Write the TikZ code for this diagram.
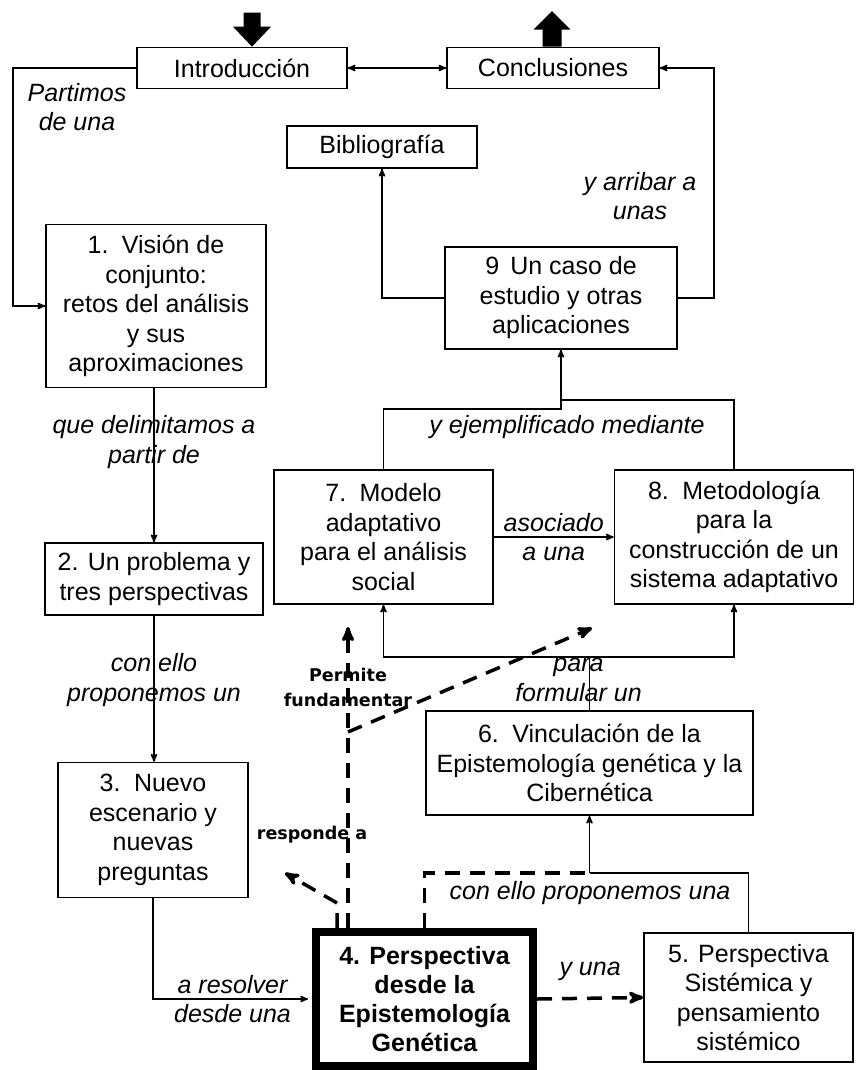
\documentclass[tikz,border=0pt]{standalone}
\usepackage{fontspec}
\setmainfont{Liberation Sans}
\newfontfamily\notefont{DejaVu Sans}
\usepackage{tikz}
\usetikzlibrary{positioning, arrows}
\tikzset{
>=stealth', % small filled heads on the links
box/.style={draw, line width=1.6pt, align=center, inner sep=0pt, font=\fontsize{25}{29.5}\selectfont}, % a plain section box
keybox/.style={box, line width=8pt, font=\fontsize{25}{29}\selectfont\bfseries}, % the central section, heavy frame
note/.style={align=center, inner sep=1pt, font=\fontsize{25}{29.5}\selectfont\itshape}, % italic text on a link
bnote/.style={align=center, inner sep=1pt, font=\notefont\fontsize{17.5}{25}\selectfont\bfseries}, % bold text on a dashed link
dashline/.style={line width=3.5pt, dash pattern=on 15pt off 10pt}, % dashed links leaving section 4
}

\begin{document}
\begin{tikzpicture}[x=1pt, y=-1pt, line width=1.6pt]
    \useasboundingbox (0,0) rectangle (856,1070);
    \node[box, minimum width=210pt, minimum height=41pt] (intro) at (242,68) {Introducción};
    \node[box, minimum width=212pt, minimum height=41pt, right of=intro, node distance=311pt] (concl) {Conclusiones};
    \node[box, minimum width=190pt, minimum height=42pt] (biblio) at (382,147) {Bibliografía};
    \node[box, minimum width=232pt, minimum height=102pt] (s9) at (561,298) {9\, Un caso de\\estudio y otras\\aplicaciones};
    \node[box, minimum width=220pt, minimum height=163pt] (s1) at (156,306) {1.\, Visión de\\conjunto:\\retos del análisis\\y sus\\aproximaciones};
    \node[box, minimum width=218pt, minimum height=72pt] (s2) at (154,579) {2. Un problema y\\tres perspectivas};
    \node[box, minimum width=190pt, minimum height=135pt] (s3) at (153,830) {3.\, Nuevo\\escenario y\\nuevas\\preguntas};
    \node[keybox, minimum width=217pt, minimum height=134pt] (s4) at (424.5,999) {4. Perspectiva\\desde la\\Epistemología\\Genética};
    \node[box, minimum width=209pt, minimum height=129pt] (s5) at (748.5,997.5) {5. Perspectiva\\Sistémica y\\pensamiento\\sistémico};
    \node[box, minimum width=327pt, minimum height=104pt] (s6) at (589.5,763) {6.\, Vinculación de la\\Epistemología genética y la\\Cibernética};
    \node[box, minimum width=219pt, minimum height=134pt] (s7) at (383.5,537) {7.\, Modelo\\adaptativo\\para el análisis\\social};
    \node[box, minimum width=239pt, minimum height=134pt, right of=s7, node distance=350.5pt] (s8) {8.\, Metodología\\para la\\construcción de un\\sistema adaptativo};

    \coordinate (j9a) at (561,409);
    \coordinate (j9b) at (561,400);
    \coordinate (j78) at (589.5,657);
    \coordinate (j6) at (589.5,873);
    \coordinate (pf) at (348,627);
    \coordinate (pj) at (348,732);
    \coordinate (pd) at (592,628);
    \coordinate (rp) at (285,873);

    \fill ([xshift=10pt]intro.north) -- ++(-19,-20) -- ++(10.5,0) -- ++(0,-14) -- ++(17,0) -- ++(0,14) -- ++(10.5,0) -- cycle;
    \fill ([xshift=-1pt]concl.north) ++(-9.5,0) -- ++(0,-17) -- ++(-9,0) -- ++(18.5,-18.5) -- ++(18.5,18.5) -- ++(-9,0) -- ++(0,17) -- cycle;

    \draw[<->] (intro) -- (concl);
    \draw[->] (intro.west) -- ++(-123,0) |- (s1.west);
    \node[note] at (77,107) {Partimos\\de una};
    \draw[->] (s9.west) -| (biblio.south);
    \draw[->] (s9.east) -- ++(36,0) |- (concl.east);
    \node[note] at (640,196) {y arribar a\\unas};
    \draw[->] (s2.north |- s1.south) -- node[note, pos=.35] {que delimitamos a\\partir de} (s2.north);
    \draw[->] (s2.south) -- node[note, pos=.44] {con ello\\proponemos un} (s2.south |- s3.north);
    \draw[->, shorten >=4pt] (s3.south) |- node[note, pos=.75] {a resolver\\desde una} (s4.west);
    \draw[dashline, ->] (s4.east) -- node[note, midway, yshift=27pt] {y una} (s5.west);
    \draw[dashline] (s4.north) |- (j6);
    \draw (s5.north) |- (j6);
    \draw[->] (j6) -- (s6.south);
    \node[note] at (590,893) {con ello proponemos una};
    \draw (s6.north) -- node[note, pos=.57, xshift=-11pt] {para\\formular un} (j78);
    \draw[->] (j78) -| (s7.south);
    \draw[->] (j78) -| (s8.south);
    \draw[->] (s7) -- node[note] {asociado\\a una} (s8);
    \draw (s7.north) |- (j9a) -- (j9b) -| (s8.north);
    \draw[->] (j9b) -- (s9.south);
    \node[note] at (567,427) {y ejemplificado mediante};
    \draw[dashline, ->] (s4.north -| pf) -- node[bnote, pos=.8] {Permite\\fundamentar} (pf);
    \draw[dashline, ->] (pj) -- (pd);
    \draw[dashline, ->] ([xshift=-87.5pt]s4.north) -- ++(0,-25) -- (rp);
    \node[bnote] at (312,835) {responde a};
\end{tikzpicture}
\end{document}
